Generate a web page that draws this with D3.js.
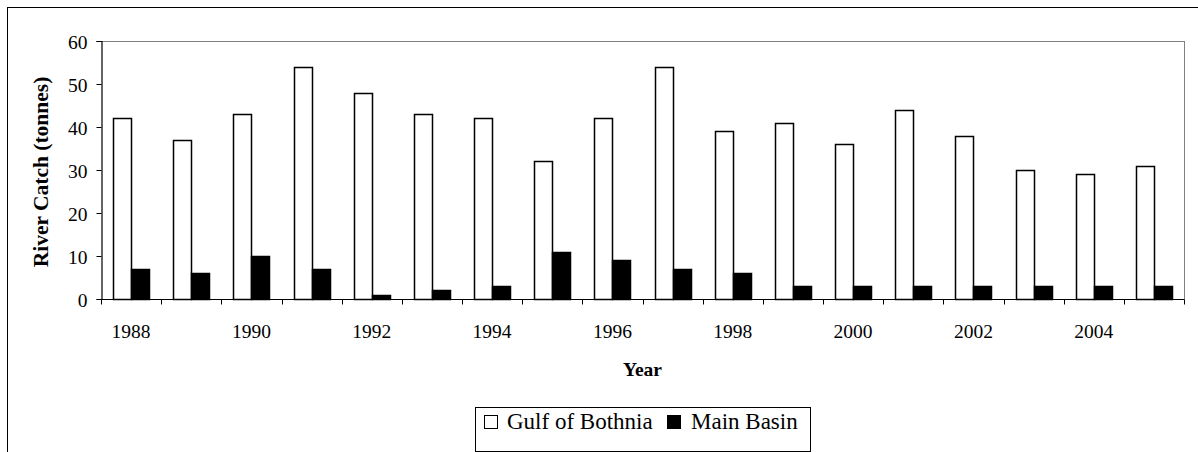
<!DOCTYPE html>
<html><head><meta charset="utf-8">
<script src="https://cdn.jsdelivr.net/npm/d3@7"></script>
<style>body{margin:0;background:#fff}svg{display:block}</style>
</head><body><div id="chart"></div>
<script>
const years = [1988,1989,1990,1991,1992,1993,1994,1995,1996,1997,1998,1999,2000,2001,2002,2003,2004,2005];
const gulfOfBothnia = [42,37,43,54,48,43,42,32,42,54,39,41,36,44,38,30,29,31];
const mainBasin = [7,6,10,7,1,2,3,11,9,7,6,3,3,3,3,3,3,3];
const yTicks = [0,10,20,30,40,50,60];
const seriesNames = ["Gulf of Bothnia","Main Basin"];
const seriesFill = ["#ffffff","#000000"];

const FONT = "'Liberation Serif', 'Times New Roman', Times, 'DejaVu Serif', serif";
const W=1198,H=452;
const m={left:101,top:41,right:1184,bottom:299};
const svg=d3.select("#chart").append("svg").attr("width",W).attr("height",H)
  .attr("font-family",FONT);

svg.append("rect").attr("x",7.5).attr("y",7.5).attr("width",W+20).attr("height",H+20)
  .attr("fill","none").attr("stroke","#000").attr("stroke-width",1);

const x=d3.scaleBand().domain(years).range([m.left,m.right]).padding(0);
const y=d3.scaleLinear().domain([0,60]).range([m.bottom,m.top]);

svg.append("line").attr("x1",m.left).attr("x2",m.right+0.5).attr("y1",y(60)+0.5).attr("y2",y(60)+0.5).attr("stroke","#808080");
svg.append("line").attr("x1",m.right+0.5).attr("x2",m.right+0.5).attr("y1",y(60)).attr("y2",m.bottom).attr("stroke","#808080");

const bw=x.bandwidth()*0.3, off=x.bandwidth()*0.2;
const data=[gulfOfBothnia,mainBasin];
data.forEach((vals,si)=>{
  svg.append("g").selectAll("rect").data(years).join("rect")
    .attr("x",(d)=>Math.round(x(d)+off+si*bw)+0.5)
    .attr("y",(d,i)=>Math.round(y(vals[i]))+0.5)
    .attr("width",Math.round(bw))
    .attr("height",(d,i)=>Math.round(y(0))-Math.round(y(vals[i])))
    .attr("fill",seriesFill[si]).attr("stroke","#000").attr("stroke-width",1.5);
});

const ya=svg.append("g").attr("transform",`translate(${m.left+0.5},0)`)
  .call(d3.axisLeft(y).tickValues(yTicks).tickSize(5).tickPadding(9));
ya.attr("font-family",FONT);
ya.select(".domain").attr("stroke","#000").attr("stroke-width",1.2);
ya.selectAll(".tick line").attr("stroke","#000");
ya.selectAll("text").attr("font-size",19.5).attr("font-family",FONT).attr("fill","#000").attr("dy","0.4em");

const xa=svg.append("g").attr("transform",`translate(0,${m.bottom+0.5})`);
xa.append("line").attr("x1",m.left).attr("x2",m.right+0.5).attr("stroke","#000").attr("stroke-width",1.2);
const bounds=years.map(d=>x(d)).concat([m.right]);
xa.selectAll("line.tk").data(bounds).join("line").attr("class","tk")
  .attr("x1",d=>Math.round(d)+0.5).attr("x2",d=>Math.round(d)+0.5).attr("y1",0).attr("y2",5).attr("stroke","#000");
xa.selectAll("text").data(years.filter((d,i)=>i%2===0)).join("text")
  .attr("x",d=>x(d)+x.bandwidth()/2).attr("y",38.5).attr("text-anchor","middle")
  .attr("font-size",19.5).attr("font-family",FONT).attr("fill","#000").text(d=>d);

svg.append("text").attr("transform",`translate(48,172) rotate(-90)`)
  .attr("text-anchor","middle").attr("font-size",21.5).attr("font-weight","bold").attr("font-family",FONT).text("River Catch (tonnes)");
svg.append("text").attr("x",(m.left+m.right)/2).attr("y",376).attr("text-anchor","middle")
  .attr("font-size",19.5).attr("font-weight","bold").attr("font-family",FONT).text("Year");

const lg=svg.append("g");
lg.append("rect").attr("x",475.5).attr("y",407.5).attr("width",335).attr("height",44).attr("fill","#fff").attr("stroke","#000");
const items=[{x:484,tx:507,name:seriesNames[0],fill:seriesFill[0]},{x:667,tx:691,name:seriesNames[1],fill:seriesFill[1]}];
items.forEach(it=>{
  lg.append("rect").attr("x",it.x+0.5).attr("y",415.5).attr("width",13).attr("height",13).attr("fill",it.fill).attr("stroke","#000");
  lg.append("text").attr("x",it.tx).attr("y",428.5).attr("font-size",23).attr("font-family",FONT).attr("fill","#000").text(it.name);
});
</script></body></html>
